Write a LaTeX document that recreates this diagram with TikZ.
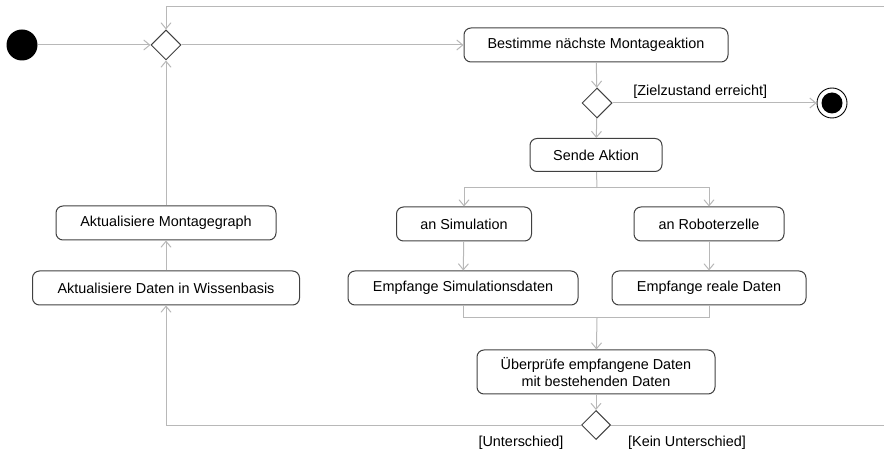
\documentclass[tikz,border=0pt]{standalone}
\usepackage{fontspec}
\setmainfont{Liberation Sans}
\usetikzlibrary{shapes.geometric,arrows.meta}

\begin{document}
\begin{tikzpicture}[x=1pt,y=-1pt,
    every node/.append style={font=\fontsize{14.4}{16.5}\selectfont},
    action/.style={draw=black!75,line width=1pt,rounded corners=7pt,minimum height=34pt,inner sep=0pt,align=center},
    decision/.style={diamond,draw=black!75,line width=1pt,minimum size=30pt,inner sep=0pt},
    initial/.style={circle,fill=black,minimum size=31pt,inner sep=0pt},
    final/.style={circle,draw=black,line width=0.9pt,minimum size=30pt,inner sep=0pt,
      path picture={\fill[black] (path picture bounding box.center) circle (10.5pt);}},
    line/.style={draw=black!28,line width=1pt},
    flow/.style={line,-{Straight Barb[length=6pt,width=10pt]}}
  ]
  \useasboundingbox (0,0) rectangle (884,454);

  % Start, merge and the main action
  \node[initial] (start) at (22,45) {};
  \node[decision] (merge) at (166,45) {};
  \node[action,minimum width=264pt] (next) at (596,45) {Bestimme nächste Montageaktion};
  \node[decision] (goal) at (597,103) {};
  \node[final] (stop) at (832,103) {};

  % Sending and receiving
  \node[action,minimum width=132pt,minimum height=33pt] (send) at (596,155) {Sende Aktion};
  \node[action,minimum width=135pt] (sim) at (464,224) {an Simulation};
  \node[action,minimum width=150pt] (robot) at (709,224) {an Roboterzelle};
  \node[action,minimum width=230pt] (simdata) at (463,288) {Empfange Simulationsdaten};
  \node[action,minimum width=194pt] (realdata) at (709,288) {Empfange reale Daten};
  \node[action,minimum width=238pt,minimum height=44pt] (check) at (596,372)
    {Überprüfe empfangene Daten\\mit bestehenden Daten};
  \node[decision,minimum size=29pt] (diff) at (596,425) {};

  % Update branch
  \node[action,minimum width=267pt] (knowledge) at (166,288) {Aktualisiere Daten in Wissenbasis};
  \node[action,minimum width=220pt] (graph) at (166,223) {Aktualisiere Montagegraph};

  % Guards
  \node (guardyes) at (521,443) {[Unterschied]};
  \node (guardno) at (687,443) {[Kein Unterschied]};

  \coordinate (fork) at (597,188);
  \coordinate (join) at (597,318);
  \coordinate (loopin) at (884,7);
  \coordinate (loopout) at (884,425);

  % Control flow
  \draw[flow] (start) -- (merge);
  \draw[flow] (merge) -- (next);
  \draw[flow] (next) -- (goal);
  \draw[flow] (goal) -- node[above,pos=0.43,yshift=1pt] {[Zielzustand erreicht]} (stop);
  \draw[flow] (goal) -- (send);
  \draw[line] (send) -- (fork);
  \draw[flow] (fork) -| (sim);
  \draw[flow] (fork) -| (robot);
  \draw[flow] (sim) -- (simdata);
  \draw[flow] (robot) -- (realdata);
  \draw[line] (simdata) |- (join);
  \draw[line] (realdata) |- (join);
  \draw[flow] (join) -- (check);
  \draw[flow] (check) -- (diff);
  \draw[flow] (diff) -| (knowledge);
  \draw[line] (diff) -- (loopout);
  \draw[flow] (knowledge) -- (graph);
  \draw[flow] (graph) -- (merge);
  \draw[flow] (loopin) -| (merge);
\end{tikzpicture}
\end{document}
